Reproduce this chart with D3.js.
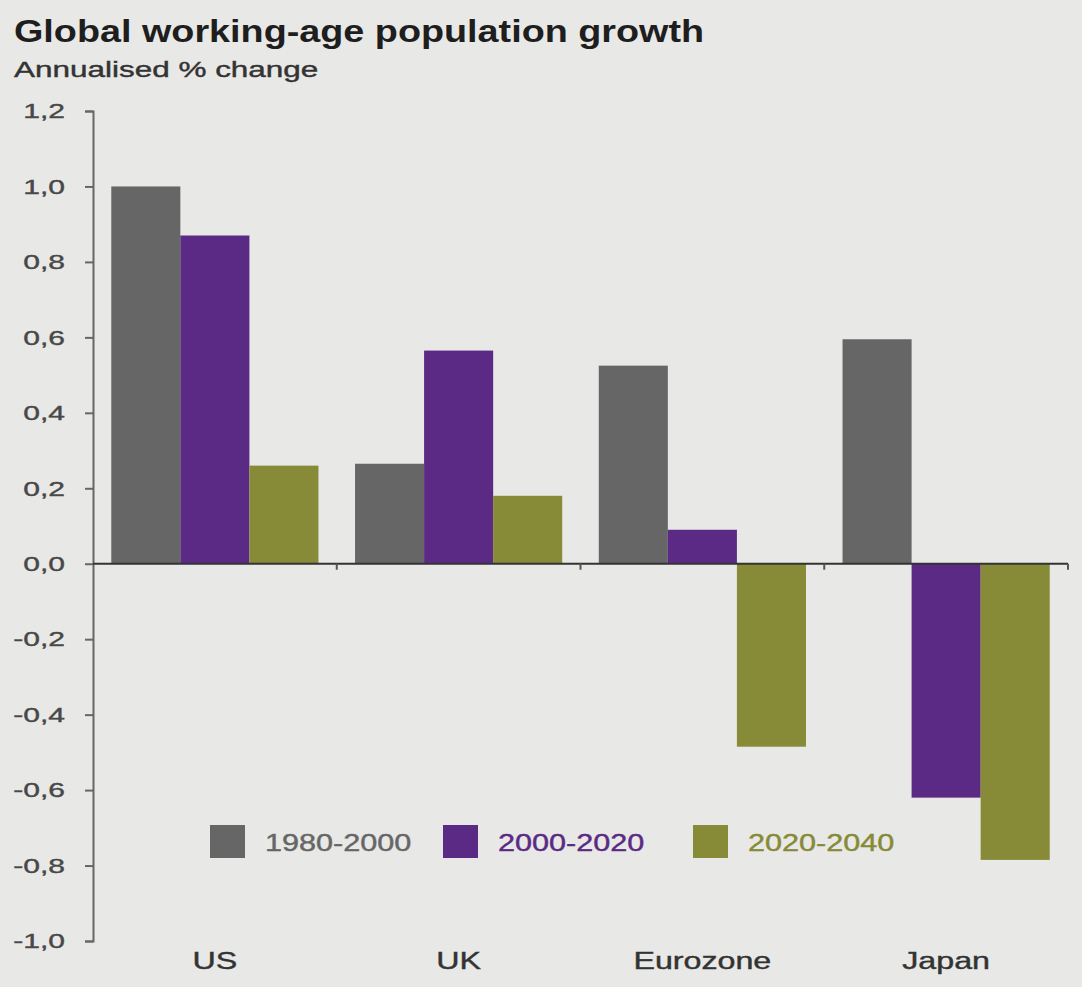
<!DOCTYPE html>
<html>
<head>
<meta charset="utf-8">
<script src="https://cdn.jsdelivr.net/npm/d3@7"></script>
<style>
  body { margin: 0; background: #e8e8e6; }
  svg { display: block; font-family: "Liberation Sans", Arial, sans-serif; }
</style>
</head>
<body>
<svg id="chart"></svg>
<script>
// Data
const regions = ['US', 'UK', 'Eurozone', 'Japan'];
const periods = ['1980-2000', '2000-2020', '2020-2040'];
const growth1980 = [1.0, 0.265, 0.525, 0.595];
const growth2000 = [0.87, 0.565, 0.09, -0.62];
const growth2020 = [0.26, 0.18, -0.485, -0.785];
const yTicks = [1.2, 1.0, 0.8, 0.6, 0.4, 0.2, 0.0, -0.2, -0.4, -0.6, -0.8, -1.0];

const seriesValues = [growth1980, growth2000, growth2020];
const colors = ['#666666', '#5a2a84', '#878a37'];

const width = 1082, height = 987;
const svg = d3.select('#chart').attr('width', width).attr('height', height);

svg.append('rect').attr('width', width).attr('height', height).attr('fill', '#e8e8e6');

// the source image is stretched sideways, so widen text to match
function stretch(sel, sx) {
    sel.each(function() {
        const len = this.getComputedTextLength();
        d3.select(this).attr('textLength', len * sx).attr('lengthAdjust', 'spacingAndGlyphs');
    });
}

// Title
svg.append('text')
    .attr('x', 14).attr('y', 42)
    .style('font-size', '32px').style('font-weight', 'bold').attr('fill', '#1e1e1e')
    .text('Global working-age population growth')
    .call(stretch, 1.18);
svg.append('text')
    .attr('x', 14).attr('y', 77)
    .style('font-size', '22px').attr('fill', '#333')
    .attr('stroke', '#333').attr('stroke-width', 0.4)
    .text('Annualised % change')
    .call(stretch, 1.43);

const left = 93, right = 1068;

// Scales
const x = d3.scaleBand().domain(regions).range([left, right])
    .paddingInner(0.15).paddingOuter(0.075);
const xInner = d3.scaleBand().domain(periods).range([0, x.bandwidth()]);
const y = d3.scaleLinear().domain([-1.0, 1.2]).range([941, 111]);

// Y axis
const yAxis = svg.append('g')
    .attr('transform', `translate(${left},0)`)
    .call(d3.axisLeft(y).tickValues(yTicks).tickSize(8).tickPadding(20)
        .tickFormat(d => d3.format('.1f')(d).replace('.', ',').replace('−', '-')));
yAxis.select('.domain').attr('stroke', '#666').attr('stroke-width', 2);
yAxis.selectAll('.tick line').attr('stroke', '#666').attr('stroke-width', 2);
yAxis.selectAll('.tick text').attr('fill', '#484848').style('font-size', '21px')
    .attr('stroke', '#484848').attr('stroke-width', 0.4)
    .style('font-family', '"Liberation Sans", Arial, sans-serif')
    .call(stretch, 1.43);

// Bars
const groups = svg.selectAll('.group')
    .data(regions)
    .enter()
    .append('g')
    .attr('transform', d => `translate(${x(d)},0)`);

groups.selectAll('rect')
    .data((r, i) => periods.map((p, j) => ({period: p, value: seriesValues[j][i], color: colors[j]})))
    .enter()
    .append('rect')
    .attr('x', d => xInner(d.period))
    .attr('width', xInner.bandwidth())
    .attr('y', d => y(Math.max(0, d.value)))
    .attr('height', d => Math.abs(y(d.value) - y(0)))
    .attr('fill', d => d.color);

// X axis at zero
svg.append('line')
    .attr('x1', left).attr('x2', right)
    .attr('y1', y(0)).attr('y2', y(0))
    .attr('stroke', '#333').attr('stroke-width', 2);
const boundaries = regions.map(r => x(r) - x.step() * 0.075).concat([right]);
svg.selectAll('.xtick')
    .data(boundaries.slice(1))
    .enter()
    .append('line')
    .attr('x1', d => d).attr('x2', d => d)
    .attr('y1', y(0)).attr('y2', y(0) + 6)
    .attr('stroke', '#555').attr('stroke-width', 2);

// Category labels
svg.selectAll('.cat')
    .data(regions)
    .enter()
    .append('text')
    .attr('x', d => x(d) + x.bandwidth() / 2)
    .attr('y', 969)
    .attr('text-anchor', 'middle')
    .style('font-size', '23px')
    .attr('fill', '#333')
    .attr('stroke', '#333').attr('stroke-width', 0.4)
    .text(d => d)
    .call(stretch, 1.4);

// Legend
const legendX = [210, 443, 693];
const legend = svg.selectAll('.legend')
    .data(periods)
    .enter()
    .append('g')
    .attr('transform', (d, i) => `translate(${legendX[i]},825)`);
legend.append('rect')
    .attr('width', 35).attr('height', 33)
    .attr('fill', (d, i) => colors[i]);
legend.append('text')
    .attr('x', 55).attr('y', 26)
    .style('font-size', '23px')
    .attr('fill', (d, i) => colors[i])
    .attr('stroke', (d, i) => colors[i]).attr('stroke-width', 0.4)
    .text(d => d)
    .call(stretch, 1.33);
</script>
</body>
</html>
